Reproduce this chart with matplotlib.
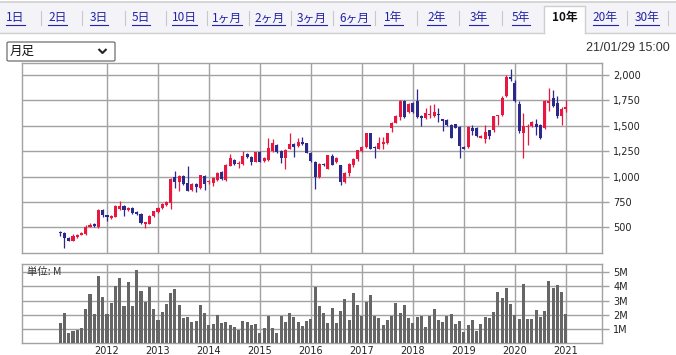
import numpy as np
import matplotlib
matplotlib.use('Agg')
import matplotlib.pyplot as plt
from matplotlib.patches import Rectangle, FancyBboxPatch
from matplotlib.lines import Line2D
from matplotlib.ticker import FuncFormatter

# monthly candles, Feb 2011 .. Jan 2021
opens = [450, 440, 397, 370, 403, 423, 430, 505, 530, 500, 673, 617, 590, 600, 680, 707, 673, 690, 655, 630,
         535, 535, 615, 655, 690, 720, 736, 998, 950, 1008, 933, 867, 926, 884, 1010, 943, 933, 966, 1048, 966,
         1107, 1163, 1120, 1123, 1222, 1195, 1146, 1244, 1153, 1160, 1250, 1310, 1253, 1183, 1276, 1320, 1303, 1336, 1326, 1233,
         1143, 993, 1126, 1077, 1203, 1143, 1110, 943, 1037, 1110, 1170, 1253, 1293, 1425, 1293, 1276, 1316, 1326, 1475, 1531,
         1590, 1747, 1634, 1723, 1747, 1597, 1575, 1607, 1597, 1617, 1564, 1558, 1508, 1515, 1492, 1293, 1293, 1477, 1477, 1382,
         1365, 1454, 1454, 1592, 1602, 1790, 1980, 1924, 1717, 1431, 1484, 1497, 1520, 1503, 1477, 1727, 1773, 1727, 1595, 1668]
highs = [463, 457, 400, 433, 437, 453, 520, 545, 545, 680, 680, 625, 620, 715, 763, 715, 700, 700, 660, 640,
         555, 620, 665, 700, 740, 760, 985, 1054, 1015, 1015, 1103, 935, 935, 1020, 1015, 970, 995, 1045, 1055, 1125,
         1222, 1170, 1150, 1251, 1235, 1205, 1245, 1250, 1195, 1376, 1370, 1320, 1260, 1275, 1426, 1335, 1376, 1393, 1335, 1240,
         1150, 1135, 1135, 1215, 1226, 1190, 1115, 1045, 1135, 1180, 1265, 1300, 1430, 1430, 1300, 1392, 1392, 1430, 1540, 1605,
         1755, 1755, 1720, 1730, 1862, 1610, 1674, 1707, 1716, 1670, 1570, 1565, 1515, 1520, 1500, 1300, 1500, 1503, 1490, 1410,
         1510, 1460, 1600, 1610, 1790, 1996, 2062, 1950, 1740, 1630, 1515, 1545, 1570, 1515, 1750, 1872, 1849, 1795, 1680, 1750]
lows = [413, 300, 365, 367, 397, 420, 425, 500, 500, 495, 605, 560, 580, 597, 675, 610, 665, 635, 620, 530,
        497, 530, 600, 640, 685, 710, 680, 890, 860, 915, 855, 860, 851, 880, 867, 930, 907, 960, 965, 960,
        1100, 1110, 1087, 1115, 1180, 1113, 1140, 1140, 1145, 1155, 1245, 1235, 1137, 1077, 1270, 1193, 1295, 1315, 1230, 1145,
        877, 985, 1100, 1070, 1110, 1135, 917, 935, 1010, 1090, 1150, 1245, 1285, 1270, 1184, 1270, 1276, 1320, 1442, 1525,
        1558, 1575, 1625, 1625, 1575, 1495, 1570, 1575, 1590, 1540, 1445, 1500, 1375, 1475, 1184, 1270, 1285, 1411, 1390, 1375,
        1329, 1365, 1440, 1510, 1600, 1780, 1940, 1730, 1430, 1186, 1306, 1490, 1405, 1370, 1470, 1650, 1680, 1572, 1510, 1640]
closes = [443, 390, 370, 417, 427, 447, 507, 525, 510, 673, 617, 600, 613, 707, 707, 673, 690, 640, 630, 540,
          550, 613, 657, 693, 733, 746, 975, 950, 1008, 926, 861, 926, 900, 1015, 926, 959, 989, 1038, 972, 1113,
          1179, 1123, 1136, 1202, 1189, 1146, 1238, 1146, 1186, 1283, 1326, 1243, 1183, 1266, 1320, 1293, 1343, 1323, 1236, 1153,
          993, 1126, 1116, 1210, 1116, 1183, 943, 1037, 1126, 1170, 1260, 1293, 1426, 1276, 1280, 1326, 1336, 1425, 1531, 1597,
          1747, 1590, 1713, 1634, 1590, 1575, 1624, 1617, 1640, 1610, 1548, 1508, 1382, 1482, 1303, 1276, 1492, 1447, 1398, 1398,
          1437, 1398, 1595, 1602, 1773, 1980, 1957, 1740, 1444, 1500, 1497, 1536, 1487, 1378, 1740, 1740, 1690, 1595, 1668, 1684]
# volume in millions
volumes = [1.43, 2.13, 0.73, 0.87, 0.96, 1.08, 2.41, 3.47, 2.06, 4.73, 3.28, 2.06, 2.83, 4.03, 4.59, 2.65, 4.31, 2.65, 5.15, 3.68,
           2.93, 3.98, 2.41, 1.66, 2.20, 2.79, 3.54, 3.84, 2.69, 1.78, 1.85, 1.50, 1.57, 2.69, 2.13, 1.29, 1.38, 1.97, 1.43, 1.50,
           1.29, 1.17, 0.94, 1.57, 1.50, 1.31, 1.36, 0.73, 1.08, 1.92, 1.08, 0.73, 1.92, 1.50, 2.13, 1.85, 1.50, 1.22, 1.57, 1.71,
           3.96, 2.62, 2.13, 1.43, 2.48, 1.43, 2.27, 3.11, 1.64, 3.54, 2.69, 1.92, 2.90, 3.40, 1.92, 1.78, 1.29, 1.64, 1.92, 2.83,
           2.13, 2.69, 1.78, 1.43, 1.85, 1.92, 1.15, 1.92, 2.41, 1.64, 1.50, 1.92, 2.06, 1.36, 1.57, 0.80, 1.29, 1.64, 0.87, 1.36,
           1.85, 1.78, 2.20, 3.61, 3.18, 3.89, 2.76, 1.99, 1.71, 4.17, 1.71, 1.71, 2.34, 1.85, 2.27, 4.38, 3.89, 4.10, 3.61, 2.06]
years = ['2012', '2013', '2014', '2015', '2016', '2017', '2018', '2019', '2020', '2021']
price_ticks = [500, 750, 1000, 1250, 1500, 1750, 2000]
vol_ticks = [1, 2, 3, 4, 5]
tabs = ['1日', '2日', '3日', '5日', '10日', '1ヶ月', '2ヶ月', '3ヶ月', '6ヶ月', '1年', '2年', '3年', '5年', '10年', '20年', '30年']
tab_x = [15.5, 57.5, 99, 141, 184, 227, 270, 312, 354.5, 393.5, 436.5, 478.5, 521, 565, 605, 647]
sep_x = [41, 82, 125, 166, 207, 249, 291, 333, 375, 417, 459, 502, 627, 668]
selected = '10年'

UP = '#e8173f'
DOWN = '#2b2a8c'
GRID = '#a2a2a2'
JP = ['Noto Sans CJK JP', 'DejaVu Sans']

W, H = 676, 355
fig = plt.figure(figsize=(W / 100, H / 100), dpi=100)


def fx(px):
    return px / W


def fy(py):
    return 1 - py / H


# ---- tab bar
fig.patches.append(Rectangle((0, fy(33)), 1, fy(2) - fy(33), transform=fig.transFigure,
                             facecolor='#f3f3f8', edgecolor='none', zorder=0))
fig.add_artist(Line2D([0, 1], [fy(1.5), fy(1.5)], color='#cfcfcf', lw=1.2))
fig.add_artist(Line2D([0, fx(544)], [fy(33), fy(33)], color='#cfcfcf', lw=1))
fig.add_artist(Line2D([fx(585), 1], [fy(33), fy(33)], color='#cfcfcf', lw=1))
fig.patches.append(Rectangle((fx(544), fy(34)), fx(585) - fx(544), fy(6) - fy(34), transform=fig.transFigure,
                             facecolor='white', edgecolor='none', zorder=1))
fig.add_artist(Line2D([fx(544), fx(544), fx(585), fx(585)], [fy(33), fy(6), fy(6), fy(33)], color='#cfcfcf', lw=1))
for s in sep_x:
    fig.add_artist(Line2D([fx(s), fx(s)], [fy(11), fy(25)], color='#c8c8c8', lw=0.8))

tab_texts = []
for lab, x in zip(tabs, tab_x):
    if lab == selected:
        fig.text(fx(x), fy(18), lab, ha='center', va='center', fontsize=8.5, family=JP,
                 fontweight='bold', color='#111111')
    else:
        t = fig.text(fx(x), fy(18), lab, ha='center', va='center', fontsize=8.5, family=JP, color='#2323a8')
        tab_texts.append(t)

# ---- dropdown and date
fig.patches.append(FancyBboxPatch((fx(7), fy(61)), fx(115) - fx(7), fy(42) - fy(61),
                                  boxstyle='round,pad=0,rounding_size=0.003', transform=fig.transFigure,
                                  facecolor='white', edgecolor='#6e6e6e', lw=0.9, zorder=2))
fig.text(fx(10), fy(51.5), '月足', ha='left', va='center', fontsize=9, family=JP, color='#111111', zorder=3)
fig.add_artist(Line2D([fx(98.5), fx(102.5), fx(106.5)], [fy(49), fy(53), fy(49)], color='#222222', lw=1.5,
                      solid_capstyle='butt', zorder=3))
fig.text(fx(670), fy(48), '21/01/29 15:00', ha='right', va='center', fontsize=9,
         family=['Liberation Sans', 'DejaVu Sans'], color='#333333')

# ---- price chart
x = np.arange(1, len(opens) + 1)
o = np.array(opens)
c = np.array(closes)
colors = [UP if cc >= oo else DOWN for oo, cc in zip(o, c)]
body_lo = np.minimum(o, c)
body_h = np.maximum(np.abs(c - o), 8)

ax = fig.add_axes([fx(22), fy(253), fx(602) - fx(22), fy(63) - fy(253)])
ax.vlines(x, lows, highs, colors=colors, lw=0.9, zorder=3)
ax.bar(x, body_h, bottom=body_lo, width=0.72, color=colors, lw=0, zorder=4)
ax.set_xlim(-8.0, 128.5)
ax.set_ylim(247, 2118)
ax.set_xticks([12 * (i + 1) for i in range(len(years))])
ax.set_xticklabels([])
ax.set_yticks(price_ticks)
ax.yaxis.set_major_formatter(FuncFormatter(lambda v, p: f'{int(v):,}'))
ax.yaxis.tick_right()
ax.tick_params(axis='x', length=0)
ax.tick_params(axis='y', direction='out', length=5, width=1, color=GRID, pad=3, labelsize=7, labelcolor='#222222')
ax.grid(True, color=GRID, lw=1)
for sp in ax.spines.values():
    sp.set_color(GRID)
    sp.set_linewidth(1)

# ---- volume chart
axv = fig.add_axes([fx(22), fy(343.3), fx(602) - fx(22), fy(264.3) - fy(343.3)])
axv.bar(x, volumes, width=0.72, color='#666666', lw=0, zorder=3)
axv.set_xlim(-8.0, 128.5)
axv.set_ylim(0, 5.56)
axv.set_xticks([12 * (i + 1) for i in range(len(years))])
axv.set_xticklabels(years)
axv.set_yticks(vol_ticks)
axv.set_yticklabels([f'{v}M' for v in vol_ticks])
axv.yaxis.tick_right()
axv.tick_params(axis='x', length=0, pad=2, labelsize=7, labelcolor='#222222')
axv.tick_params(axis='y', direction='out', length=5, width=1, color=GRID, pad=3, labelsize=7, labelcolor='#222222')
axv.grid(True, color=GRID, lw=1)
for sp in axv.spines.values():
    sp.set_color(GRID)
    sp.set_linewidth(1)
axv.text(fx(27) / 1, fy(272), '単位: M', transform=fig.transFigure, ha='left', va='center',
         fontsize=7.5, family=JP, color='#333333', zorder=5)

# underline the link tabs
fig.canvas.draw()
r = fig.canvas.get_renderer()
for t in tab_texts:
    bb = t.get_window_extent(r)
    fig.add_artist(Line2D([bb.x0 / W, bb.x1 / W], [fy(25), fy(25)], color='#2323a8', lw=0.8))

fig.savefig('out.png', dpi=100)
